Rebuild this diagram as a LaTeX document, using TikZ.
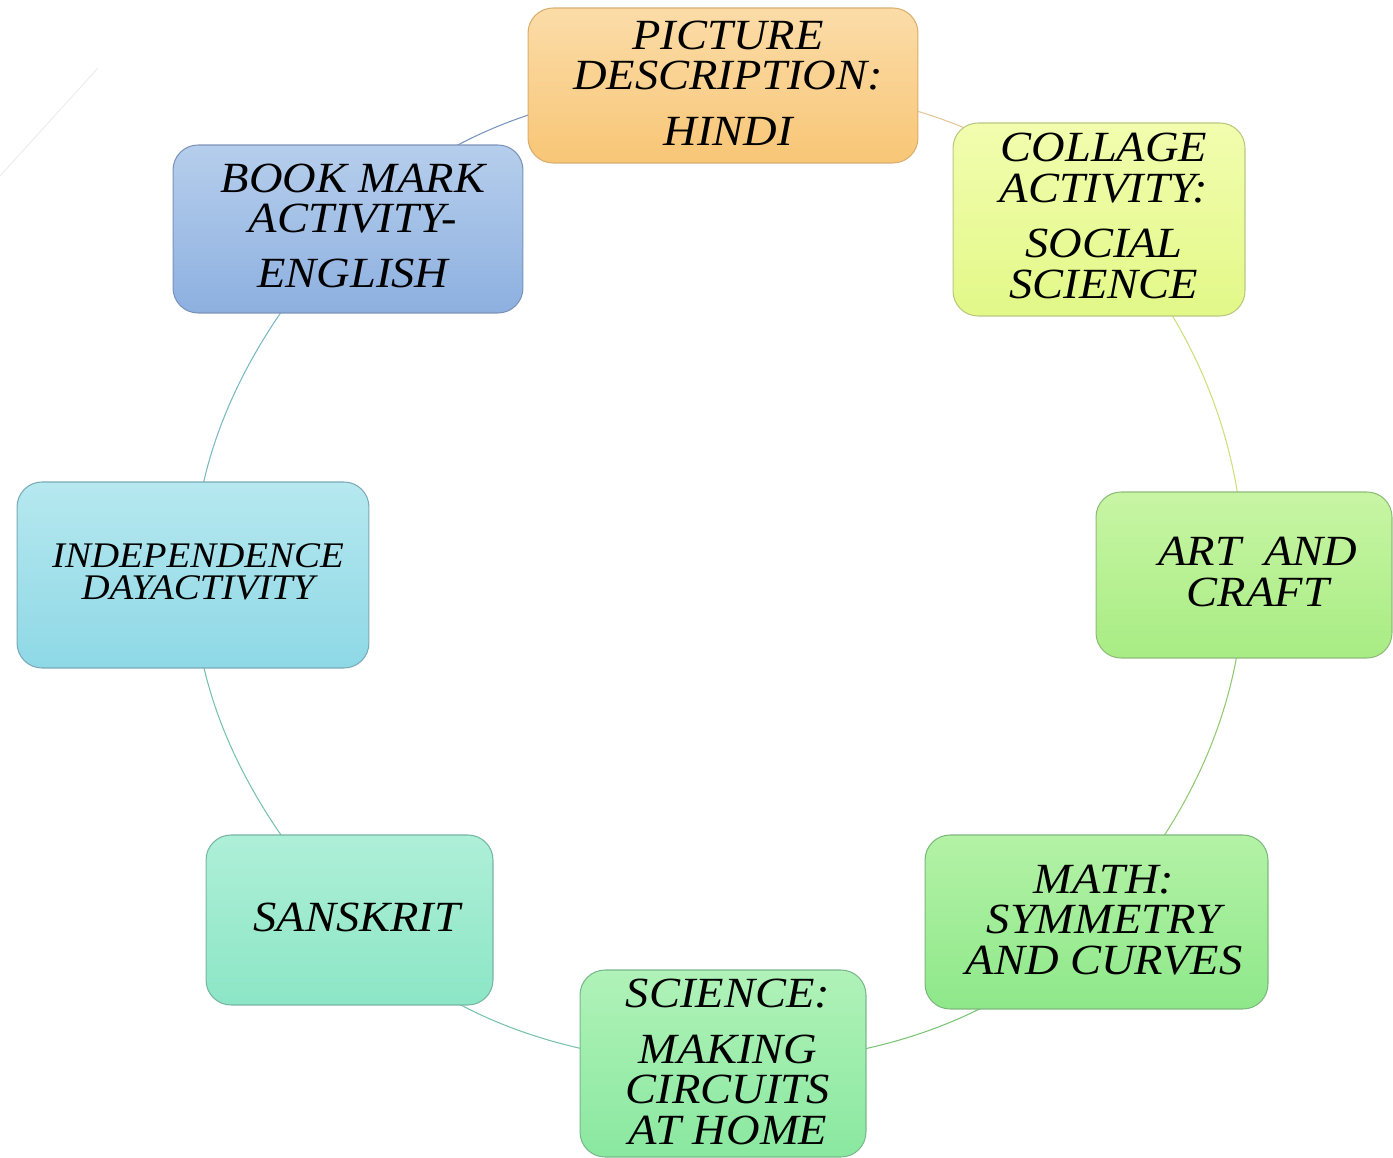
\documentclass[tikz,border=0pt]{standalone}
\usepackage{fontspec}
\setmainfont{Liberation Serif}
\newfontfamily\handfont{Liberation Serif}[FakeStretch=1.08]
\usetikzlibrary{backgrounds}
\definecolor{picT}{HTML}{FBDCA8}\definecolor{picB}{HTML}{F8C676}\definecolor{picD}{HTML}{D9AE6E}
\definecolor{bmT}{HTML}{B6CEEC}\definecolor{bmB}{HTML}{8DB0E0}\definecolor{bmD}{HTML}{7A93B8}
\definecolor{colT}{HTML}{F2FDAE}\definecolor{colB}{HTML}{E2F888}\definecolor{colD}{HTML}{B8C880}
\definecolor{artT}{HTML}{C8F5A4}\definecolor{artB}{HTML}{A8EC84}\definecolor{artD}{HTML}{8EBC78}
\definecolor{mathT}{HTML}{B4F2A6}\definecolor{mathB}{HTML}{8EE88A}\definecolor{mathD}{HTML}{7CB87C}
\definecolor{sciT}{HTML}{B0F2B8}\definecolor{sciB}{HTML}{8AE8A0}\definecolor{sciD}{HTML}{78B88C}
\definecolor{sanT}{HTML}{AEEFD8}\definecolor{sanB}{HTML}{8CE6C6}\definecolor{sanD}{HTML}{78B4A4}
\definecolor{indT}{HTML}{B6E8EF}\definecolor{indB}{HTML}{8ED8E6}\definecolor{indD}{HTML}{7AAAB8}
\tikzset{
  box/.style={rectangle, rounded corners=0.5cm, line width=0.6pt, inner sep=0pt},
  lbl/.style={font=\handfont\fontsize{24.5}{23}\selectfont\itshape, align=center, inner sep=0pt, text=black},
  lblsmall/.style={font=\handfont\fontsize{20.5}{18.5}\selectfont\itshape, align=center, inner sep=0pt, text=black},
  conn/.style={line width=0.6pt, looseness=0.9}
}
\begin{document}
\begin{tikzpicture}[x=0.02cm, y=0.02cm]
\useasboundingbox (0,0) rectangle (1393,-1158);
% boxes
\node[box, draw=picD, top color=picT, bottom color=picB, minimum width=7.8cm, minimum height=3.1cm] (pic) at (723,-85.5) {};
\node[box, draw=bmD, top color=bmT, bottom color=bmB, minimum width=7.0cm, minimum height=3.36cm] (bm) at (348,-229) {};
\node[box, draw=colD, top color=colT, bottom color=colB, minimum width=5.84cm, minimum height=3.86cm] (col) at (1099,-219.5) {};
\node[box, draw=artD, top color=artT, bottom color=artB, minimum width=5.92cm, minimum height=3.32cm] (art) at (1244,-575) {};
\node[box, draw=mathD, top color=mathT, bottom color=mathB, minimum width=6.86cm, minimum height=3.48cm] (math) at (1096.5,-922) {};
\node[box, draw=sciD, top color=sciT, bottom color=sciB, minimum width=5.72cm, minimum height=3.74cm] (sci) at (723,-1063.5) {};
\node[box, draw=sanD, top color=sanT, bottom color=sanB, minimum width=5.74cm, minimum height=3.4cm] (san) at (349.5,-920) {};
\node[box, draw=indD, top color=indT, bottom color=indB, minimum width=7.04cm, minimum height=3.72cm] (ind) at (193,-575) {};
% labels
\node[lbl] (picL) at (728,-83) {PICTURE\\DESCRIPTION:\\[0.3cm]HINDI};
\node[lbl] (bmL) at (353,-226) {BOOK MARK\\ACTIVITY-\\[0.3cm]ENGLISH};
\node[lbl] (colL) at (1104,-216) {COLLAGE\\ACTIVITY:\\[0.3cm]SOCIAL\\SCIENCE};
\node[lbl] (artL) at (1258,-572) {ART~~AND\\CRAFT};
\node[lbl] (mathL) at (1104,-920) {MATH:\\SYMMETRY\\AND CURVES};
\node[lbl] (sciL) at (728,-1062) {SCIENCE:\\[0.3cm]MAKING\\CIRCUITS\\AT HOME};
\node[lbl] (sanL) at (357,-917) {SANSKRIT};
\node[lblsmall] (indL) at (198,-572) {INDEPENDENCE\\DAYACTIVITY};
% connectors (cycle)
\begin{scope}[on background layer]
\draw[conn, color=picD!70] (pic.center) to[out=0, in=133.4] (col.center);
\draw[conn, color=colB!90!black] (col.center) to[out=-46.6, in=90] (art.center);
\draw[conn, color=artB!85!black] (art.center) to[out=-90, in=47.1] (math.center);
\draw[conn, color=mathB!85!black] (math.center) to[out=-132.9, in=0] (sci.center);
\draw[conn, color=sanB!85!black] (sci.center) to[out=180, in=-47.3] (san.center);
\draw[conn, color=sanB!70!indB!85!black] (san.center) to[out=132.7, in=-90] (ind.center);
\draw[conn, color=indB!85!black] (ind.center) to[out=90, in=227.3] (bm.center);
\draw[conn, color=bmB!85!black] (bm.center) to[out=47.3, in=180] (pic.center);
\end{scope}
% faint stray stroke at top left
\coordinate (s1) at (0,-176);
\coordinate (s2) at (98,-68);
\draw[line width=0.5pt, color=black!8] (s1) -- (s2);
\end{tikzpicture}
\end{document}
